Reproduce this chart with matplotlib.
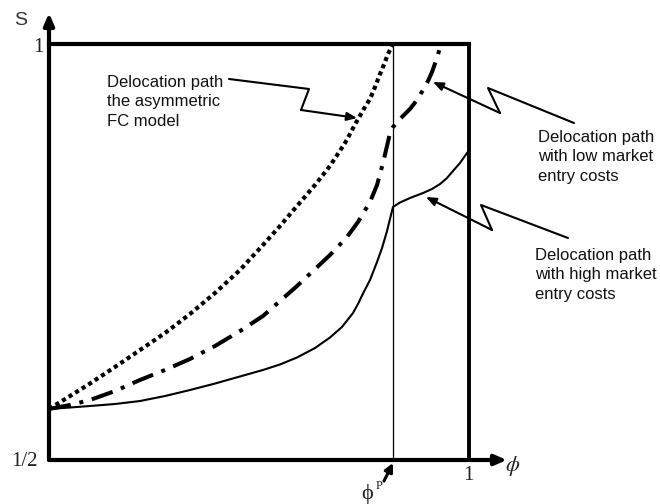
import matplotlib
matplotlib.use("Agg")
import matplotlib.pyplot as plt

# ---------------- data (phi on x, S on y) ----------------
phi_p = 0.819          # break point phi^P
s_min, s_max = 0.5, 1.0
phi_max = 1.0

# delocation path, asymmetric FC model (dotted)
fc_phi = [0.0000, 0.0500, 0.0976, 0.1571, 0.2167, 0.2762, 0.3357, 0.3952, 0.4548, 0.5095, 0.5500, 0.5905,
          0.6333, 0.6690, 0.7048, 0.7333, 0.7524, 0.7643, 0.7762, 0.7881, 0.8000, 0.8071, 0.8143, 0.8190]
fc_s   = [0.5613, 0.5769, 0.5919, 0.6118, 0.6322, 0.6526, 0.6755, 0.7007, 0.7284, 0.7584, 0.7813, 0.8053,
          0.8305, 0.8534, 0.8810, 0.9075, 0.9243, 0.9339, 0.9483, 0.9639, 0.9784, 0.9880, 0.9952, 1.0000]

# delocation path, low market entry costs (dash-dot)
low_phi = [0.0000, 0.0500, 0.0976, 0.1571, 0.2167, 0.2762, 0.3357, 0.3952, 0.4548, 0.5095, 0.5500, 0.5905,
           0.6286, 0.6690, 0.7095, 0.7357, 0.7643, 0.7810, 0.7952, 0.8048, 0.8119, 0.8190, 0.8357, 0.8595,
           0.8762, 0.8905, 0.9024, 0.9119, 0.9238, 0.9333]
low_s   = [0.5613, 0.5661, 0.5721, 0.5829, 0.5962, 0.6082, 0.6214, 0.6370, 0.6550, 0.6731, 0.6911, 0.7091,
           0.7272, 0.7464, 0.7680, 0.7861, 0.8101, 0.8305, 0.8570, 0.8774, 0.8930, 0.9002, 0.9099, 0.9219,
           0.9327, 0.9447, 0.9555, 0.9663, 0.9832, 1.0000]

# delocation path, high market entry costs (solid)
high_phi = [0.0000, 0.0500, 0.0976, 0.1571, 0.2167, 0.2762, 0.3357, 0.3952, 0.4548, 0.5095, 0.5500, 0.5905,
            0.6333, 0.6690, 0.6976, 0.7238, 0.7357, 0.7476, 0.7643, 0.7810, 0.7929, 0.8048, 0.8119, 0.8190,
            0.8357, 0.8595, 0.8905, 0.9119, 0.9310, 0.9476, 0.9619, 0.9786, 0.9952]
high_s   = [0.5613, 0.5631, 0.5649, 0.5673, 0.5709, 0.5769, 0.5841, 0.5919, 0.6004, 0.6082, 0.6148, 0.6232,
            0.6346, 0.6472, 0.6599, 0.6767, 0.6875, 0.7001, 0.7163, 0.7380, 0.7548, 0.7752, 0.7897, 0.8041,
            0.8095, 0.8149, 0.8209, 0.8257, 0.8317, 0.8389, 0.8474, 0.8570, 0.8690]

y_tick_labels = ["1/2", "1"]
x_tick_labels = ["1"]
labels = ["Delocation path\nthe asymmetric\nFC model",
          "Delocation path\nwith low market\nentry costs",
          "Delocation path\nwith high market\nentry costs"]

# ---------------- layout helpers (pixel -> data) ----------------
def dx(px):
    return (px - 49) / 420.0

def dy(py):
    return 0.5 + (460 - py) / 832.0

fig = plt.figure(figsize=(6.6, 5.04), dpi=100)
ax = fig.add_axes([0, 0, 1, 1])
ax.set_xlim(dx(0), dx(660))
ax.set_ylim(dy(504), dy(0))
ax.axis("off")

K = "black"
# frame box
ax.plot([0, phi_max], [s_max, s_max], color=K, lw=3, solid_capstyle="projecting")
ax.plot([phi_max, phi_max], [s_min, s_max], color=K, lw=2.8, solid_capstyle="projecting")
ax.plot([phi_p, phi_p], [s_min, s_max], color=K, lw=0.9)

# axes with arrows
ax.annotate("", xy=(0, dy(13)), xytext=(0, s_min),
            arrowprops=dict(arrowstyle="-|>,head_length=0.7,head_width=0.3", lw=3,
                            color=K, shrinkA=0, shrinkB=0))
ax.annotate("", xy=(dx(507), s_min), xytext=(0, s_min),
            arrowprops=dict(arrowstyle="-|>,head_length=0.7,head_width=0.3", lw=3,
                            color=K, shrinkA=0, shrinkB=0))

# curves
ax.plot(fc_phi, fc_s, color=K, lw=3.0, linestyle=(0, (1, 0.85)), dash_capstyle="butt")
ax.plot(low_phi, low_s, color=K, lw=2.9, linestyle=(0, (5.5, 2.2, 1, 2.2)), dash_capstyle="butt")
ax.plot(high_phi, high_s, color=K, lw=1.5)

# tick labels
serif = ["Liberation Serif", "DejaVu Serif"]
ax.text(dx(38), dy(47), y_tick_labels[1], fontsize=15, family=serif, ha="center", va="center", color="#222")
ax.text(dx(24), dy(462), y_tick_labels[0], fontsize=15, family=serif, ha="center", va="center", color="#222")
ax.text(dx(468), dy(476), x_tick_labels[0], fontsize=15, family=serif, ha="center", va="center", color="#222")
ax.text(dx(21), dy(20), "S", fontsize=14, family="Liberation Sans", ha="center", va="center", color="#333")
ax.text(dx(513), dy(466), r"$\phi$", fontsize=16, math_fontfamily="stix", ha="center", va="center", color="#222")
ax.text(dx(367), dy(494), "ϕ", fontsize=16, family=serif, ha="center", va="center", color="#222")
ax.text(dx(379), dy(486), "P", fontsize=9, family=serif, ha="center", va="center", color="#222")

# small arrow at phi^P
ax.annotate("", xy=(dx(393), dy(463)), xytext=(dx(384), dy(481)),
            arrowprops=dict(arrowstyle="-|>,head_length=0.5,head_width=0.25", lw=2.2,
                            color=K, shrinkA=0, shrinkB=0))

# labels
sans = "Liberation Sans"
ax.text(dx(107), dy(75), labels[0], fontsize=12, family=sans, ha="left", va="top", linespacing=1.37, color="#111")
ax.text(dx(538), dy(130), labels[1], fontsize=12, family=sans, ha="left", va="top", linespacing=1.37, color="#111")
ax.text(dx(535), dy(248), labels[2], fontsize=12, family=sans, ha="left", va="top", linespacing=1.37, color="#111")

# lightning-style leader arrows
bolts = [
    [(229, 79), (309, 89), (301, 110), (357, 118)],
    [(574, 123), (488, 88), (500, 113), (433, 82)],
    [(568, 238), (481, 205), (492, 230), (426, 197)],
]
for pts in bolts:
    xs = [dx(p[0]) for p in pts[:-1]]
    ys = [dy(p[1]) for p in pts[:-1]]
    ax.plot(xs, ys, color=K, lw=1.5, solid_joinstyle="round", solid_capstyle="round")
    ax.annotate("", xy=(dx(pts[-1][0]), dy(pts[-1][1])), xytext=(xs[-1], ys[-1]),
                arrowprops=dict(arrowstyle="-|>,head_length=0.6,head_width=0.25", lw=1.5,
                                color=K, shrinkA=0, shrinkB=0))

fig.savefig("out.png", dpi=100)
